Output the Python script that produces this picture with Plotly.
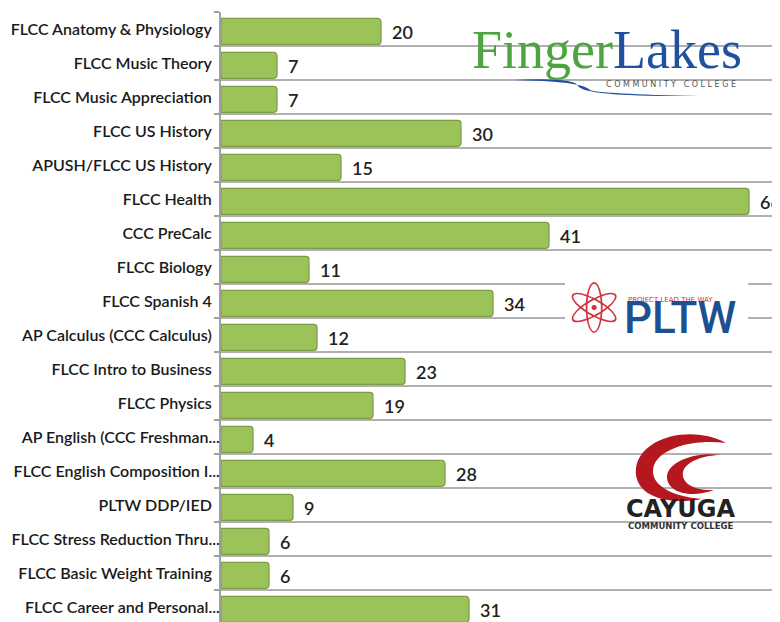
import plotly.graph_objects as go

categories = [
    "FLCC Anatomy & Physiology", "FLCC Music Theory", "FLCC Music Appreciation",
    "FLCC US History", "APUSH/FLCC US History", "FLCC Health", "CCC PreCalc",
    "FLCC Biology", "FLCC Spanish 4", "AP Calculus (CCC Calculus)",
    "FLCC Intro to Business", "FLCC Physics", "AP English (CCC Freshman...",
    "FLCC English Composition I...", "PLTW DDP/IED", "FLCC Stress Reduction Thru...",
    "FLCC Basic Weight Training", "FLCC Career and Personal...",
]
values = [20, 7, 7, 30, 15, 66, 41, 11, 34, 12, 23, 19, 4, 28, 9, 6, 6, 31]

# the page body adds an 8px offset; lay out in window pixels and subtract it
OFF = 8
W, H = 780, 622
L, R, T, B = 221 - OFF, 0, 12 - OFF, 0
positions = list(range(len(categories)))
PLOT_W = W - L - R
PLOT_H = H - T - B


def px(x):
    return (x - OFF - L) / PLOT_W


def py(y):
    return (H - B - (y - OFF)) / PLOT_H


def path(cmds):
    """Build an SVG path in paper coords from window-pixel commands."""
    out = []
    for c in cmds:
        if isinstance(c, str):
            out.append(c)
        else:
            out.append(f"{px(c[0]):.5f},{py(c[1]):.5f}")
    return " ".join(out)


# truncated labels run right up to the axis; full labels keep a small gap
tick_text = [c if c.endswith("...") else c + "\u2002" for c in categories]

FONT = "Lato"

fig = go.Figure()
fig.add_trace(go.Bar(
    x=values, y=positions, orientation="h",
    width=0.76, offset=-0.31,
    marker=dict(color="#9bc35a", line=dict(color="#7a9c42", width=1.2), cornerradius=3),
    hoverinfo="skip",
))
# value labels
for v, p in zip(values, positions):
    fig.add_annotation(x=v, y=p + 0.07, text=str(v), showarrow=False,
                       xanchor="left", xshift=9, yshift=-1,
                       font=dict(family=FONT, size=18, color="#222222", weight=600))

fig.update_layout(
    width=W, height=H,
    margin=dict(l=L, r=R, t=T, b=B, pad=0, autoexpand=False),
    paper_bgcolor="white", plot_bgcolor="white",
    showlegend=False,
    xaxis=dict(range=[0, PLOT_W / 8.0], visible=False, fixedrange=True, automargin=False),
    yaxis=dict(
        range=[-0.5 + PLOT_H / 34.0, -0.5],
        tickmode="array", tickvals=positions, ticktext=tick_text,
        showgrid=False, ticks="", ticklen=0, ticklabelstandoff=-4, automargin=False,
        tickfont=dict(family=FONT, size=16, color="#1a1a1a", weight=600),
        showline=True, linecolor="#a0a0a0", linewidth=2,
        minor=dict(tick0=0.5, dtick=1, showgrid=True, gridcolor="#b0b0b0",
                   gridwidth=2, ticks="outside", ticklen=5, tickcolor="#a0a0a0",
                   tickwidth=1.5),
        zeroline=False,
    ),
)

# --- logos rendered as text / simple shapes ---
# Finger Lakes Community College
fig.add_annotation(xref="paper", yref="paper", x=px(470), y=py(50), xanchor="left", yanchor="middle",
                   text="<span style='color:#4ea441'>Finger</span><span style='color:#2050a0'>Lakes</span>",
                   showarrow=False, font=dict(family="Liberation Serif", size=54))
fig.add_shape(type="path", xref="paper", yref="paper", layer="above",
              path=path(["M", (513, 80), "Q", (575, 77), (578, 86), "Q", (585, 97), (700, 96),
                         "Q", (600, 94), (590, 90), "Q", (582, 81), (513, 80), "Z"]),
              fillcolor="#2050a0", line=dict(width=0))
fig.add_annotation(xref="paper", yref="paper", x=px(738), y=py(85), xanchor="right", yanchor="middle",
                   text="C O M M U N I T Y   C O L L E G E", showarrow=False,
                   font=dict(family="DejaVu Sans", size=8, color="#555555"))

# PLTW
fig.add_shape(type="rect", xref="paper", yref="paper", x0=px(565), x1=px(748), y0=py(280), y1=py(340),
              fillcolor="white", line=dict(width=0), layer="above")
fig.add_annotation(xref="paper", yref="paper", x=px(594), y=py(309), xanchor="center", yanchor="middle",
                   text="⚛", showarrow=False, width=50,
                   font=dict(family="DejaVu Sans", size=70, color="#d2323c"))
fig.add_annotation(xref="paper", yref="paper", x=px(626), y=py(300), xanchor="left", yanchor="middle",
                   text="PROJECT LEAD THE WAY", showarrow=False,
                   font=dict(family="DejaVu Sans", size=7, color="#d2323c"))
fig.add_annotation(xref="paper", yref="paper", x=px(622), y=py(318), xanchor="left", yanchor="middle",
                   text="PLTW", showarrow=False,
                   font=dict(family="Roboto", size=44, color="#1d4f91", weight=500))

# Cayuga Community College
fig.add_shape(type="path", xref="paper", yref="paper", layer="above",
              path=path(["M", (726, 443), "C", (690, 424), (640, 438), (636, 468),
                         "C", (633, 495), (665, 506), (702, 499),
                         "C", (668, 496), (648, 483), (654, 465),
                         "C", (662, 447), (695, 439), (726, 443), "Z"]),
              fillcolor="#b5171e", line=dict(width=0))
fig.add_shape(type="path", xref="paper", yref="paper", layer="above",
              path=path(["M", (722, 455), "C", (695, 451), (666, 462), (667, 478),
                         "C", (668, 492), (690, 499), (714, 490),
                         "C", (694, 491), (681, 483), (683, 472),
                         "C", (686, 461), (704, 455), (722, 455), "Z"]),
              fillcolor="#b5171e", line=dict(width=0))
fig.add_annotation(xref="paper", yref="paper", x=px(680), y=py(509), xanchor="center", yanchor="middle",
                   text="<b>CAYUGA</b>", showarrow=False,
                   font=dict(family="DejaVu Sans", size=24, color="#222222"))
fig.add_annotation(xref="paper", yref="paper", x=px(681), y=py(526), xanchor="center", yanchor="middle",
                   text="<b>COMMUNITY COLLEGE</b>", showarrow=False,
                   font=dict(family="DejaVu Sans", size=8.5, color="#333333"))

fig.write_html("out.html")
